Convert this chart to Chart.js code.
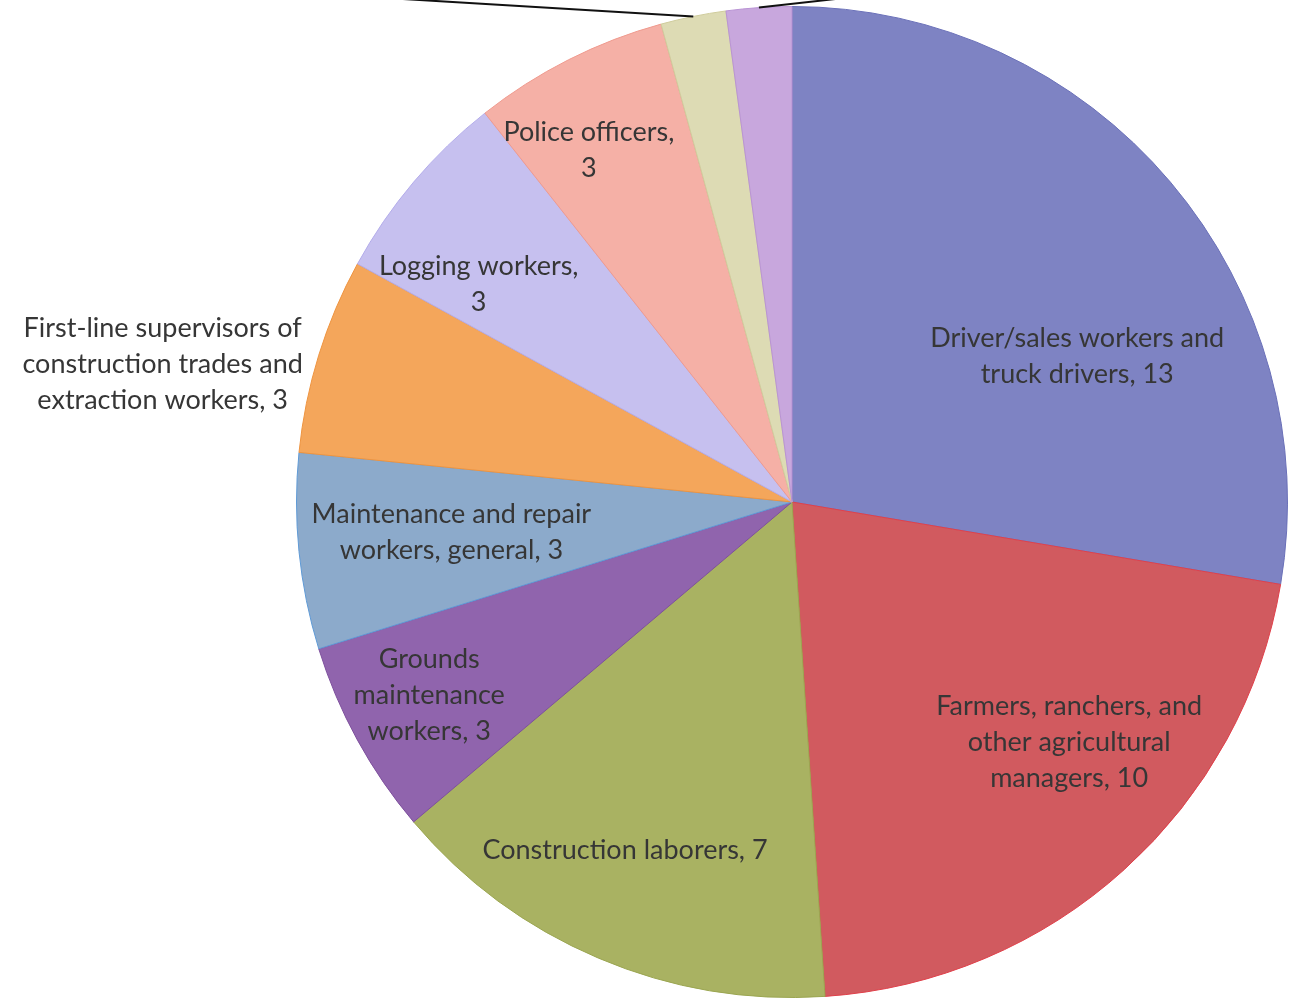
<!DOCTYPE html>
<html>
<head>
<meta charset="utf-8">
<script src="https://cdn.jsdelivr.net/npm/chart.js@4.4.1/dist/chart.umd.min.js"></script>
<style>
  html, body { margin: 0; padding: 0; background: #fff; }
  #wrap { width: 1299px; height: 1005px; position: relative; }
</style>
</head>
<body>
<div id="wrap"><canvas id="chart"></canvas></div>
<script>
// categories as they appear on the chart (line breaks as printed); last two labels are cut off at the top
const categories = [
  'Driver/sales workers and\ntruck drivers',
  'Farmers, ranchers, and\nother agricultural\nmanagers',
  'Construction laborers',
  'Grounds\nmaintenance\nworkers',
  'Maintenance and repair\nworkers, general',
  'First-line supervisors of\nconstruction trades and\nextraction workers',
  'Logging workers',
  'Police officers',
  '',
  ''
];
const counts = [13, 10, 7, 3, 3, 3, 3, 3, 1, 1];

const sliceColors = [
  '#7e83c3', '#d15a5f', '#a9b262', '#9064ad', '#8caacb',
  '#f4a65b', '#c6c0ef', '#f5b0a6', '#dddbb4', '#c8a7dd'
];
const sliceBorders = [
  '#6a70b8', '#e0404a', '#9aa550', '#7d4f9c', '#5f9ad6',
  '#ee9440', '#b3acea', '#ef9a8e', '#cfcc9c', '#b993d4'
];

// label anchors: angle clockwise from 12 o'clock (deg), distance as fraction of radius
const labelPlace = [
  { a: 63.0, r: 0.646 },
  { a: 130.9, r: 0.74 },
  { a: 205.6, r: 0.78 },
  { a: 241.9, r: 0.83 },
  { a: 265.0, r: 0.69 },
  { a: 282.3, r: 1.30 },
  { a: 304.8, r: 0.77, valueBreak: true },
  { a: 330.0, r: 0.82, valueBreak: true },
  null,
  null
];
// leader lines for the two thin slices whose labels lie above the picture
const leaders = { 8: { dx: -300, dy: -18 }, 9: { dx: 80, dy: -9 } };

const labelPlugin = {
  id: 'sliceLabels',
  afterDatasetsDraw(chart) {
    const ctx = chart.ctx;
    const meta = chart.getDatasetMeta(0);
    ctx.save();
    // leader lines
    ctx.strokeStyle = '#111';
    ctx.lineWidth = 2;
    Object.keys(leaders).forEach((k) => {
      const arc = meta.data[k];
      const mid = (arc.startAngle + arc.endAngle) / 2;
      const x0 = arc.x + Math.cos(mid) * arc.outerRadius;
      const y0 = arc.y + Math.sin(mid) * arc.outerRadius;
      ctx.beginPath();
      ctx.moveTo(x0, y0);
      ctx.lineTo(x0 + leaders[k].dx, y0 + leaders[k].dy);
      ctx.stroke();
    });
    // data labels
    ctx.fillStyle = '#363636';
    ctx.font = '27px Lato, "Open Sans", sans-serif';
    ctx.textAlign = 'center';
    ctx.textBaseline = 'middle';
    const lineH = 36;
    categories.forEach((name, i) => {
      const p = labelPlace[i];
      if (!p || !name) return;
      const arc = meta.data[i];
      const ang = (p.a - 90) * Math.PI / 180;
      const cx = arc.x + Math.cos(ang) * arc.outerRadius * p.r;
      const cy = arc.y + Math.sin(ang) * arc.outerRadius * p.r;
      const text = name + (p.valueBreak ? ',\n' : ', ') + counts[i];
      const lines = text.split('\n');
      lines.forEach((ln, j) => {
        ctx.fillText(ln, cx, cy + (j - (lines.length - 1) / 2) * lineH);
      });
    });
    ctx.restore();
  }
};

new Chart(document.getElementById('chart'), {
  type: 'pie',
  data: {
    labels: categories,
    datasets: [{
      data: counts,
      backgroundColor: sliceColors,
      borderColor: sliceBorders,
      borderWidth: 1
    }]
  },
  options: {
    responsive: true,
    maintainAspectRatio: false,
    animation: false,
    layout: { padding: { left: 295, right: 10, top: 6, bottom: 7 } },
    plugins: {
      legend: { display: false },
      tooltip: { enabled: false }
    }
  },
  plugins: [labelPlugin]
});
</script>
</body>
</html>
